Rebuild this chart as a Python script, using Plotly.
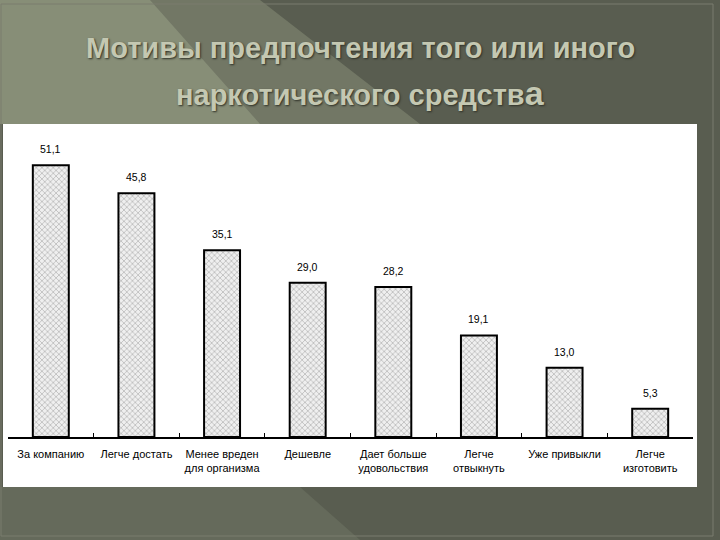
import plotly.graph_objects as go

categories = ["За компанию", "Легче достать", "Менее вреден<br>для организма", "Дешевле",
              "Дает больше<br>удовольствия", "Легче<br>отвыкнуть", "Уже привыкли", "Легче<br>изготовить"]
values = [51.1, 45.8, 35.1, 29.0, 28.2, 19.1, 13.0, 5.3]
title_line1 = "Мотивы предпочтения того или иного"
title_line2 = "наркотического средств<span style='font-size:34px'>а</span>"

W, H = 720, 540
ML, MR, MT, MB = 8, 27, 128, 103
PW, PH = W - ML - MR, H - MT - MB

def px(x):
    return (x - ML) / PW

def py(y):
    return (H - MB - y) / PH

fig = go.Figure()
fig.add_trace(go.Bar(
    x=categories, y=values, width=0.42,
    marker=dict(color="white", line=dict(color="black", width=2),
                pattern=dict(shape="x", size=4, solidity=0.3, fgcolor="#6a6a6a", bgcolor="#efefef")),
    hoverinfo="skip",
))

shapes = []
# background streaks
shapes.append(dict(type="path", xref="paper", yref="paper", layer="below",
                   path=f"M {px(0)} {py(0)} L {px(260)} {py(0)} L {px(420)} {py(124)} L {px(0)} {py(124)} Z",
                   fillcolor="rgba(160,170,140,0.35)", line=dict(width=0)))
shapes.append(dict(type="path", xref="paper", yref="paper", layer="below",
                   path=f"M {px(0)} {py(0)} L {px(150)} {py(0)} L {px(260)} {py(124)} L {px(0)} {py(124)} Z",
                   fillcolor="rgba(175,185,155,0.35)", line=dict(width=0)))
shapes.append(dict(type="path", xref="paper", yref="paper", layer="below",
                   path=f"M {px(0)} {py(487)} L {px(300)} {py(487)} L {px(360)} {py(540)} L {px(0)} {py(540)} Z",
                   fillcolor="rgba(150,158,135,0.2)", line=dict(width=0)))
# white chart panel
shapes.append(dict(type="rect", xref="paper", yref="paper", layer="below",
                   x0=px(3), x1=px(697), y0=py(487), y1=py(124),
                   fillcolor="white", line=dict(width=0)))
# frame
shapes.append(dict(type="rect", xref="paper", yref="paper", layer="below",
                   x0=px(1), x1=px(713), y0=py(536), y1=py(4),
                   fillcolor="rgba(0,0,0,0)", line=dict(color="#7a7d6e", width=1)))

title_font = dict(family="Liberation Sans, Arial", size=29, color="#c4c8b2", weight="bold",
                  shadow="1px 1px 2px #303228")
annotations = [
    dict(text=title_line1, x=px(360), y=py(48), xref="paper", yref="paper", showarrow=False,
         xanchor="center", yanchor="middle", font=title_font),
    dict(text=title_line2, x=px(360), y=py(93), xref="paper", yref="paper", showarrow=False,
         xanchor="center", yanchor="middle", font=title_font),
]
for c, v in zip(categories, values):
    annotations.append(dict(text=f"{v:.1f}".replace(".", ","), x=c, y=v, xref="x", yref="y",
                            showarrow=False, xanchor="center", yanchor="middle", yshift=16,
                            font=dict(family="Liberation Sans, Arial", size=10.5, color="black")))

fig.update_layout(
    width=W, height=H, margin=dict(l=ML, r=MR, t=MT, b=MB),
    paper_bgcolor="#595d50", plot_bgcolor="rgba(0,0,0,0)",
    separators=", ", showlegend=False,
    shapes=shapes, annotations=annotations,
)
fig.update_xaxes(type="category", showline=True, linecolor="black", linewidth=1.5,
                 ticks="inside", tickson="boundaries", ticklen=4, tickcolor="black",
                 ticklabelstandoff=6,
                 showgrid=False, zeroline=False,
                 tickfont=dict(family="Liberation Sans, Arial", size=11, color="black"))
fig.update_yaxes(range=[0, PH / 5.32], visible=False, showgrid=False)

fig.write_html("out.html", config={"displayModeBar": False},
               post_script="document.body.style.margin='0';")
